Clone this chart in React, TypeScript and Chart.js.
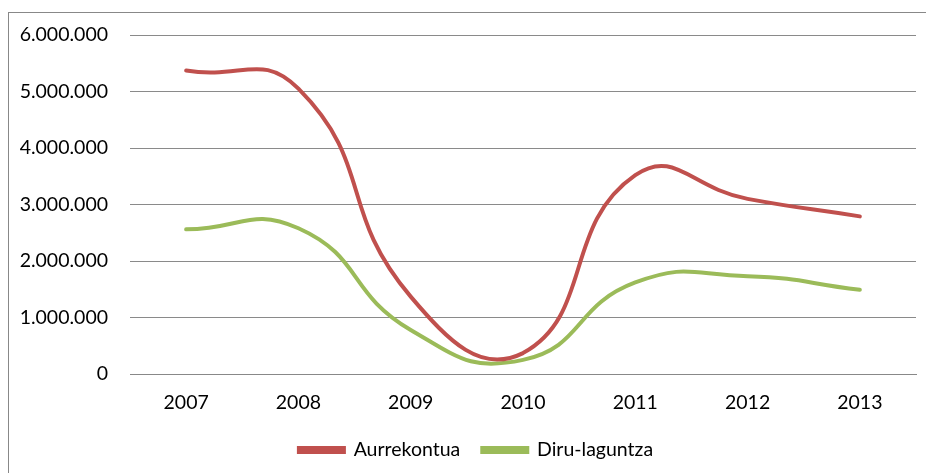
import React, { useEffect, useRef } from "react";
import { Chart, registerables } from "chart.js";

Chart.register(...registerables);

const years = ["2007", "2008", "2009", "2010", "2011", "2012", "2013"];
const aurrekontua = [5370000, 5050000, 1370000, 370000, 3520000, 3100000, 2790000];
const diruLaguntza = [2560000, 2580000, 780000, 250000, 1620000, 1730000, 1490000];
const seriesNames = ["Aurrekontua", "Diru-laguntza"];
const seriesColors = ["#C0504D", "#9BBB59"];

const fmt = (v: number) => String(Math.round(v)).replace(/\B(?=(\d{3})+(?!\d))/g, ".");

const legendShift = {
  id: "legendShift",
  afterLayout(chart: any) {
    const lg = chart.legend;
    if (lg) {
      lg.left += 18;
      lg.right += 18;
    }
  },
};

export default function App() {
  const ref = useRef<HTMLCanvasElement | null>(null);
  useEffect(() => {
    if (!ref.current) return;
    const font = { family: "Lato", size: 19.5 };
    const chart = new Chart(ref.current, {
      type: "line",
      data: {
        labels: years,
        datasets: [
          {
            label: seriesNames[0],
            data: aurrekontua,
            borderColor: seriesColors[0],
            backgroundColor: seriesColors[0],
            borderWidth: 4,
            pointRadius: 0,
            tension: 0.5,
            borderCapStyle: "round",
          },
          {
            label: seriesNames[1],
            data: diruLaguntza,
            borderColor: seriesColors[1],
            backgroundColor: seriesColors[1],
            borderWidth: 4,
            pointRadius: 0,
            tension: 0.5,
            borderCapStyle: "round",
          },
        ],
      },
      plugins: [legendShift],
      options: {
        animation: false,
        responsive: false,
        maintainAspectRatio: false,
        layout: { padding: { top: 35, right: 10, left: 0, bottom: 3.25 } },
        plugins: {
          tooltip: { enabled: false },
          legend: {
            position: "bottom",
            labels: {
              font,
              color: "#000",
              boxWidth: 45,
              boxHeight: 4,
              padding: 22,
            },
          },
        },
        scales: {
          x: {
            offset: true,
            grid: { display: false, drawTicks: false },
            border: { display: true, color: "#888888" },
            ticks: { font, color: "#000", padding: 17 },
            afterFit: (s: any) => {
              s.height = 44.25;
            },
          },
          y: {
            min: 0,
            max: 6000000,
            grid: { color: "#8a8a8a", drawTicks: false },
            border: { display: false },
            ticks: {
              stepSize: 1000000,
              font,
              color: "#000",
              padding: 22,
              callback: (v: any) => fmt(Number(v)),
            },
            afterFit: (s: any) => {
              s.width = 130;
            },
          },
        },
      },
    });
    return () => chart.destroy();
  }, []);
  return (
    <div style={{ position: "absolute", left: 0, top: 0, width: 926, height: 473, overflow: "hidden", background: "#fff" }}>
      <div
        style={{
          position: "absolute",
          left: 8,
          top: 12,
          width: 940,
          height: 480,
          border: "1px solid #888888",
          boxSizing: "border-box",
        }}
      />
      <canvas ref={ref} width={926} height={473} style={{ position: "absolute", left: 0, top: 0 }} />
    </div>
  );
}
